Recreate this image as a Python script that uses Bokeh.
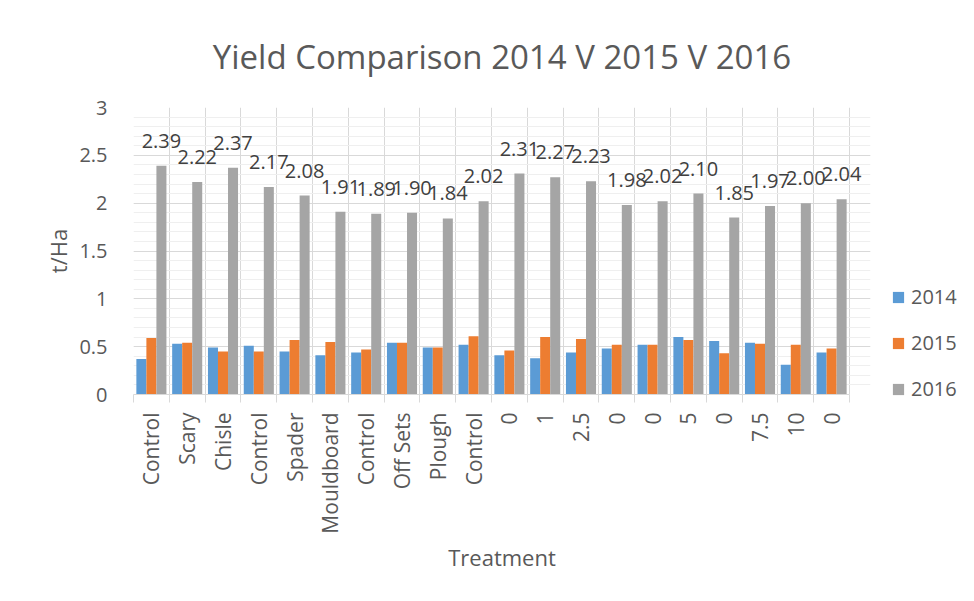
import math
from bokeh.plotting import figure
from bokeh.models import FixedTicker, Legend, LegendItem, ColumnDataSource
from bokeh.core.properties import value
from bokeh.embed import file_html
from bokeh.resources import INLINE

categories = ["Control", "Scary", "Chisle", "Control", "Spader", "Mouldboard",
              "Control", "Off Sets", "Plough", "Control", "0", "1", "2.5", "0",
              "0", "5", "0", "7.5", "10", "0"]
yield_2014 = [0.37, 0.53, 0.49, 0.51, 0.45, 0.41, 0.44, 0.54, 0.49, 0.52,
              0.41, 0.38, 0.44, 0.48, 0.52, 0.60, 0.56, 0.54, 0.31, 0.44]
yield_2015 = [0.59, 0.54, 0.45, 0.45, 0.57, 0.55, 0.47, 0.54, 0.49, 0.61,
              0.46, 0.60, 0.58, 0.52, 0.52, 0.57, 0.43, 0.53, 0.52, 0.48]
yield_2016 = [2.39, 2.22, 2.37, 2.17, 2.08, 1.91, 1.89, 1.90, 1.84, 2.02,
              2.31, 2.27, 2.23, 1.98, 2.02, 2.10, 1.85, 1.97, 2.00, 2.04]
series_names = ["2014", "2015", "2016"]
y_ticks = [0, 0.5, 1, 1.5, 2, 2.5, 3]
y_tick_labels = ["0", "0.5", "1", "1.5", "2", "2.5", "3"]

colors = ["#5B9BD5", "#ED7D31", "#A5A5A5"]
FONT = "Open Sans"
TXT = "#595959"

n = len(categories)
centers = [i + 0.5 for i in range(n)]
bounds = list(range(n + 1))

GRID_W = 716      # pixel width of the category area
FRAME_W = 737     # frame a bit wider so the last data label is not clipped

p = figure(frame_width=FRAME_W, frame_height=287,
           x_range=(0, n * FRAME_W / GRID_W), y_range=(0, 3),
           output_backend="svg", toolbar_location=None,
           min_border_left=133, min_border_right=104, min_border_top=107,
           min_border_bottom=207,
           title="Yield Comparison 2014 V 2015 V 2016")
p.outline_line_color = None
p.background_fill_color = "white"
p.border_fill_color = "white"

p.title.align = "center"
p.title.text_font = FONT
p.title.text_font_size = "33px"
p.title.text_font_style = "normal"
p.title.text_color = TXT
p.title.standoff = 58

bw = 0.28
renderers = []
for k, (vals, c) in enumerate(zip([yield_2014, yield_2015, yield_2016], colors)):
    src = ColumnDataSource(dict(x=[cx + (k - 1) * bw for cx in centers], top=vals))
    r = p.vbar(x="x", top="top", width=bw, source=src, fill_color=c, line_color=None)
    renderers.append(r)

lbl_src = ColumnDataSource(dict(x=[cx + bw for cx in centers], y=yield_2016,
                                t=[f"{v:.2f}" for v in yield_2016]))
p.text(x="x", y="y", text="t", source=lbl_src, text_align="center",
       text_baseline="alphabetic", y_offset=-25, text_font=value(FONT),
       text_font_size="20px", text_color="#404040")

# x axis
p.xaxis.ticker = FixedTicker(ticks=centers, minor_ticks=bounds)
p.xaxis.bounds = (0, n)
p.xaxis.major_label_overrides = {c: lab for c, lab in zip(centers, categories)}
p.xaxis.major_label_orientation = math.pi / 2
p.xaxis.major_tick_line_color = None
p.xaxis.minor_tick_line_color = "#d9d9d9"
p.xaxis.minor_tick_out = 8
p.xaxis.minor_tick_in = 0
p.xaxis.axis_line_color = "#d9d9d9"
p.xaxis.major_label_text_font = FONT
p.xaxis.major_label_text_font_size = "21px"
p.xaxis.major_label_text_color = TXT
p.xaxis.major_label_standoff = 10
p.xaxis.axis_label = "Treatment"
p.xaxis.axis_label_text_font = FONT
p.xaxis.axis_label_text_font_size = "22px"
p.xaxis.axis_label_text_font_style = "normal"
p.xaxis.axis_label_text_color = TXT
p.xaxis.axis_label_standoff = 5

# y axis
p.yaxis.ticker = FixedTicker(ticks=y_ticks,
                             minor_ticks=[i / 10 for i in range(31)])
p.yaxis.major_label_overrides = {t: s for t, s in zip(y_ticks, y_tick_labels)}
p.yaxis.axis_line_color = None
p.yaxis.major_tick_line_color = None
p.yaxis.minor_tick_line_color = None
p.yaxis.major_label_text_font = FONT
p.yaxis.major_label_text_font_size = "20px"
p.yaxis.major_label_text_color = TXT
p.yaxis.major_label_standoff = 20
p.yaxis.axis_label = "t/Ha"
p.yaxis.axis_label_text_font = FONT
p.yaxis.axis_label_text_font_size = "22px"
p.yaxis.axis_label_text_font_style = "normal"
p.yaxis.axis_label_text_color = TXT
p.yaxis.axis_label_standoff = 3

# grids
p.xgrid.ticker = FixedTicker(ticks=bounds)
p.xgrid.grid_line_color = "#d9d9d9"
p.ygrid.bounds = (0, n)
p.ygrid.grid_line_color = "#d9d9d9"
p.ygrid.minor_grid_line_color = "#efefef"

legend = Legend(items=[LegendItem(label=s, renderers=[r]) for s, r in zip(series_names, renderers)],
                location=(21, -8))
legend.label_text_font = FONT
legend.label_text_font_size = "20px"
legend.label_text_color = TXT
legend.glyph_width = 14
legend.glyph_height = 14
legend.label_standoff = 6
legend.spacing = 19
legend.border_line_color = None
legend.background_fill_alpha = 0
legend.padding = 10
legend.margin = 0
p.add_layout(legend, "right")

open("out.html", "w").write(file_html(p, INLINE))
